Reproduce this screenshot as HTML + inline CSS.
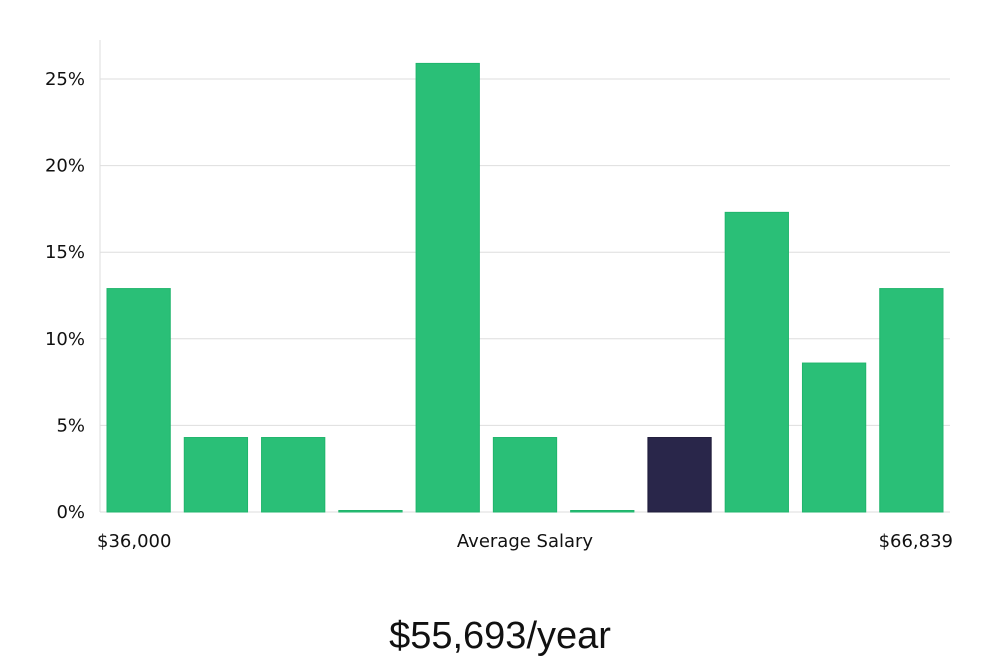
<!DOCTYPE html>
<html><head><meta charset="utf-8"><style>
body{margin:0;background:#fff;width:1000px;height:660px;overflow:hidden;font-family:"DejaVu Sans","Liberation Sans",sans-serif;}
</style></head><body>
<svg id="chart" width="1000" height="660" xmlns="http://www.w3.org/2000/svg"></svg>
<script>
const categories=["b1","b2","b3","b4","b5","b6","b7","b8","b9","b10","b11"];
const values=[12.9,4.3,4.3,0,25.9,4.3,0,4.3,17.3,8.6,12.9];
const highlight=[0,0,0,0,0,0,0,1,0,0,0];
const yTicks=[0,5,10,15,20,25];
const svg=document.getElementById('chart');
const NS="http://www.w3.org/2000/svg";
const x0=100,x1=950,yZero=512,yTop=79;
const y=v=>yZero-(v/25)*(yZero-yTop);
const slot=(x1-x0)/categories.length;
function mk(t,a,parent){const e=document.createElementNS(NS,t);for(const k in a)e.setAttribute(k,a[k]);(parent||svg).appendChild(e);return e;}
yTicks.forEach(t=>{
  const g=mk('line',{x1:x0,x2:x1,y1:y(t),y2:y(t),stroke:'#dedede','stroke-width':1});
  
  
  const l=mk('text',{x:85,y:y(t)+6,'text-anchor':'end','font-size':18,fill:'#111'});
  l.textContent=t+'%';
  
  
});
const ax=mk('line',{x1:x0,x2:x0,y1:40,y2:yZero,stroke:'#dedede','stroke-width':1});


values.forEach((v,i)=>{
  const bx=x0+i*slot+7, bw=slot-14;
  const top=Math.min(y(v),yZero-1.5);
  const r=mk('rect',{x:bx,y:top,width:bw,height:yZero-top,fill:highlight[i]?'#29264a':'#2abf77',stroke:highlight[i]?'#1f1c3a':'#20b56c','stroke-width':1});
  
  
});
[["$36,000",97,'start','x-label-min'],["Average Salary",525,'middle','x-axis-title'],["$66,839",953,'end','x-label-max']].forEach(d=>{
  const t=mk('text',{x:d[1],y:547,'text-anchor':d[2],'font-size':18,fill:'#111'});
  t.textContent=d[0];
  
  
});
const s=mk('text',{x:500,y:648,'text-anchor':'middle','font-size':38,fill:'#111','font-family':'"Liberation Sans Narrow","Liberation Sans",sans-serif'});
s.textContent='$55,693/year';


</script>
</body></html>
